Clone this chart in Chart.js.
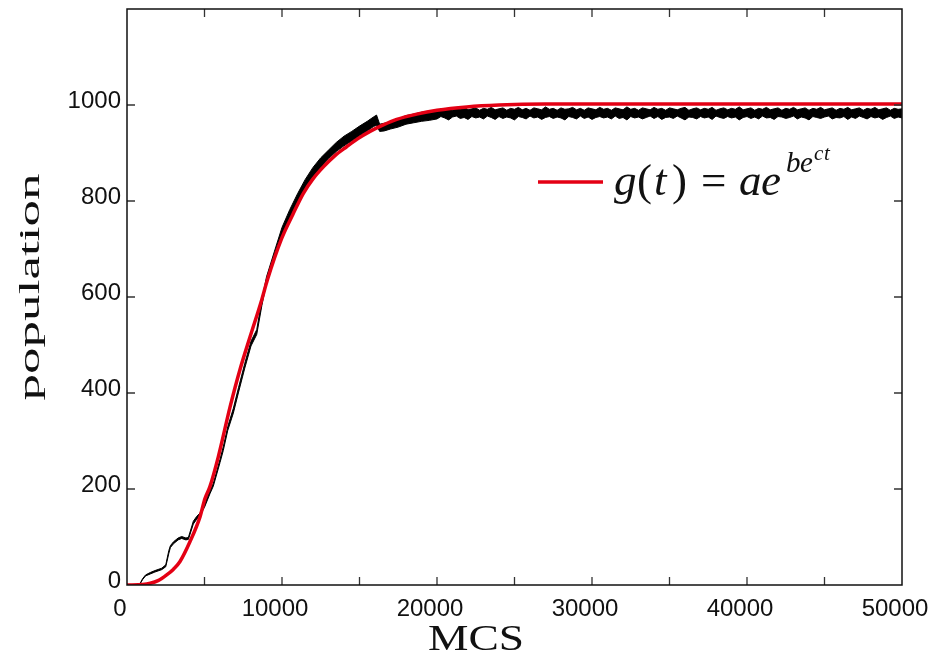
<!DOCTYPE html>
<html>
<head>
<meta charset="utf-8">
<script src="https://cdn.jsdelivr.net/npm/chart.js@4/dist/chart.umd.min.js"></script>
<style>
html,body{margin:0;padding:0;background:#fff;}
#wrap{width:928px;height:661px;}
</style>
</head>
<body>
<div id="wrap"><canvas id="c" width="928" height="661"></canvas></div>
<script>
// ---------- DATA ----------
// simulation (black): low / high edge of the noisy trace
const simMCS = [0,800,1000,1200,1500,1800,2240,2500,2700,2800,3000,3300,3530,3800,3960,4280,4500,4710,5000,5350,5570,6000,6210,6500,6860,7200,7600,8000,8370,8700,9000,9500,
10000,10500,11000,11500,12000,12500,13000,13500,14000,14500,15000,15500,15900,16100,16300,16600,17000,17500,18000,18500,19000,19500,
20000,20250,20500,20750,21000,21250,21500,21750,22000,22250,22500,22750,23000,23250,23500,23750,24000,24250,24500,24750,
25000,25250,25500,25750,26000,26250,26500,26750,27000,27250,27500,27750,28000,28250,28500,28750,29000,29250,29500,29750,
30000,30250,30500,30750,31000,31250,31500,31750,32000,32250,32500,32750,33000,33250,33500,33750,34000,34250,34500,34750,
35000,35250,35500,35750,36000,36250,36500,36750,37000,37250,37500,37750,38000,38250,38500,38750,39000,39250,39500,39750,
40000,40250,40500,40750,41000,41250,41500,41750,42000,42250,42500,42750,43000,43250,43500,43750,44000,44250,44500,44750,
45000,45250,45500,45750,46000,46250,46500,46750,47000,47250,47500,47750,48000,48250,48500,48750,49000,49250,49500,49750,50000];
const simLow = [0,0,11,19,23,27,32,38,66,78,86,94,97,94,95,127,137,145,162,190,206,255,280,322,358,402,452,498,522,582,630,680,
725,762,795,825,850,870,888,903,915,925,936,946,955,958,945,946,950,954,960,963,966,968,
971,976,973,969,975,977,972,974,970,976,973,975,971,977,974,970,976,972,975,973,
969,976,974,971,977,973,975,970,974,976,972,975,973,969,976,974,971,977,972,975,
970,974,976,973,975,971,977,972,974,969,976,973,975,971,974,977,972,976,970,974,
975,972,977,973,969,975,974,971,976,973,975,970,977,974,972,976,973,975,969,974,
976,972,975,971,977,973,974,970,976,975,972,974,977,971,975,973,969,976,974,972,
975,977,971,974,973,976,970,975,972,977,974,971,976,973,975,970,974,977,972,975,973];
const simHigh = [0,0,13,21,26,30,35,42,72,82,90,98,101,98,99,133,143,150,168,196,212,262,288,330,368,412,462,508,532,594,642,694,
745,782,815,845,870,890,906,922,935,945,956,966,975,979,960,962,964,970,978,981,985,987,
988,992,990,994,989,993,991,996,990,992,994,989,993,991,995,990,992,994,989,993,
991,995,990,993,989,994,992,990,996,991,993,989,994,991,992,995,990,993,989,994,
992,990,995,991,993,989,994,992,990,996,991,993,989,994,992,990,995,991,993,989,
994,992,990,993,995,989,992,994,990,993,991,995,989,992,994,990,993,991,996,990,
992,994,989,993,991,995,990,992,994,989,993,991,995,990,992,994,989,993,991,995,
990,992,994,989,993,991,995,990,992,994,989,993,991,995,990,992,994,989,993,991,992];
// fitted Gompertz curve (red)
const fitMCS = [0,1000,1500,2000,2560,3000,3420,4060,4710,5030,5350,5890,6650,7300,7940,8690,9050,9980,10700,11380,12000,12670,13400,14170,14900,15680,16500,17400,18690,20000,21920,24000,27000,30000,35000,40000,45000,50000];
const fitPop = [0,1,3.5,9,21,33,49,90,142,180,205,267,371,450,517,594,635,722,772,816,846,871,894,913,930,945,958,970,981,989,996,1000,1002,1002,1002,1002,1002,1002];
const xTickValues = [0,10000,20000,30000,40000,50000];
const yTickValues = [0,200,400,600,800,1000];

// ---------- BUILD ----------
const lowPts = simMCS.map((x,i)=>({x:x,y:simLow[i]}));
const highPts = simMCS.map((x,i)=>({x:x,y:simHigh[i]}));
const fitPts = fitMCS.map((x,i)=>({x:x,y:fitPop[i]}));

const decor = {
  id:'decor',
  afterDraw(chart){
    const ctx = chart.ctx, a = chart.chartArea;
    const xs = chart.scales.x, ys = chart.scales.y;
    ctx.save();
    // inner tick marks
    ctx.strokeStyle = '#333'; ctx.lineWidth = 1.3;
    ctx.beginPath();
    for(let v=5000; v<50000; v+=5000){
      const px = xs.getPixelForValue(v);
      ctx.moveTo(px,a.bottom); ctx.lineTo(px,a.bottom-8);
      ctx.moveTo(px,a.top); ctx.lineTo(px,a.top+8);
    }
    for(let v=200; v<1200; v+=200){
      const py = ys.getPixelForValue(v);
      ctx.moveTo(a.left,py); ctx.lineTo(a.left+8,py);
      ctx.moveTo(a.right,py); ctx.lineTo(a.right-8,py);
    }
    ctx.stroke();
    // frame
    ctx.strokeStyle = '#111'; ctx.lineWidth = 1.5;
    ctx.strokeRect(a.left, a.top, a.right-a.left, a.bottom-a.top);
    // axis titles
    ctx.fillStyle = '#111';
    ctx.save();
    ctx.translate(476,650);
    ctx.scale(1.3,1);
    ctx.font = '35px "Liberation Serif", "Times New Roman", serif';
    ctx.textAlign='center'; ctx.textBaseline='alphabetic';
    ctx.fillText('MCS',0,0);
    ctx.restore();
    ctx.save();
    ctx.translate(39,287);
    ctx.rotate(-Math.PI/2);
    ctx.scale(1.83,1);
    ctx.font = '29px "Liberation Serif", "Times New Roman", serif';
    ctx.textAlign='center'; ctx.textBaseline='alphabetic';
    ctx.fillText('population',0,0);
    ctx.restore();
    // legend
    ctx.strokeStyle = 'rgb(228,0,20)'; ctx.lineWidth = 3.5;
    ctx.beginPath(); ctx.moveTo(538,182); ctx.lineTo(603,182); ctx.stroke();
    ctx.textAlign='left'; ctx.textBaseline='alphabetic';
    const it = 'italic 45px "Liberation Serif", "Times New Roman", serif';
    const rm = '45px "Liberation Serif", "Times New Roman", serif';
    const parts = [
      [it,'g',614,195],[rm,'(',637,195],[it,'t',654,195],[rm,')',672,195],
      [rm,'=',701,195],[it,'a',739,195],[it,'e',761,195],
      ['italic 29px "Liberation Serif", serif','b',786,172],['italic 29px "Liberation Serif", serif','e',800,172],
      ['italic 21px "Liberation Serif", serif','c',814,160],['italic 21px "Liberation Serif", serif','t',824,160]
    ];
    for(const p of parts){ ctx.font=p[0]; ctx.fillText(p[1],p[2],p[3]); }
    ctx.restore();
  }
};

new Chart(document.getElementById('c'), {
  type:'line',
  data:{
    datasets:[
      {label:'sim low', data:lowPts, borderColor:'#000', borderWidth:1, pointRadius:0, fill:false, order:1, tension:0},
      {label:'sim high', data:highPts, borderColor:'#000', borderWidth:1, pointRadius:0, fill:0, backgroundColor:'#000', order:1, tension:0},
      {label:'g(t)', data:fitPts, borderColor:'rgb(228,0,20)', borderWidth:3.5, pointRadius:0, fill:false, order:0, cubicInterpolationMode:'monotone'}
    ]
  },
  options:{
    responsive:false, animation:false,
    layout:{padding:{top:9,right:26,left:0,bottom:0}},
    plugins:{legend:{display:false}, tooltip:{enabled:false}},
    scales:{
      x:{type:'linear', min:0, max:50000,
        grid:{display:false}, border:{display:false},
        afterBuildTicks(s){ s.ticks = xTickValues.map(v=>({value:v})); },
        ticks:{autoSkip:false, maxRotation:0, padding:2, labelOffset:-7, color:'#111',
          font:{family:'"Liberation Sans", Arial, sans-serif', size:24},
          callback:(v)=>String(v)},
        afterFit(s){ s.height = 76; s.paddingLeft=0; s.paddingRight=0; }
      },
      y:{min:0, max:1200,
        grid:{display:false}, border:{display:false},
        afterBuildTicks(s){ s.ticks = yTickValues.map(v=>({value:v})); },
        ticks:{padding:-2, labelOffset:-4, color:'#111',
          font:{family:'"Liberation Sans", Arial, sans-serif', size:24},
          callback:(v)=>String(v)},
        afterFit(s){ s.width = 127; s.paddingTop=0; s.paddingBottom=0; }
      }
    }
  },
  plugins:[decor]
});
</script>
</body>
</html>
